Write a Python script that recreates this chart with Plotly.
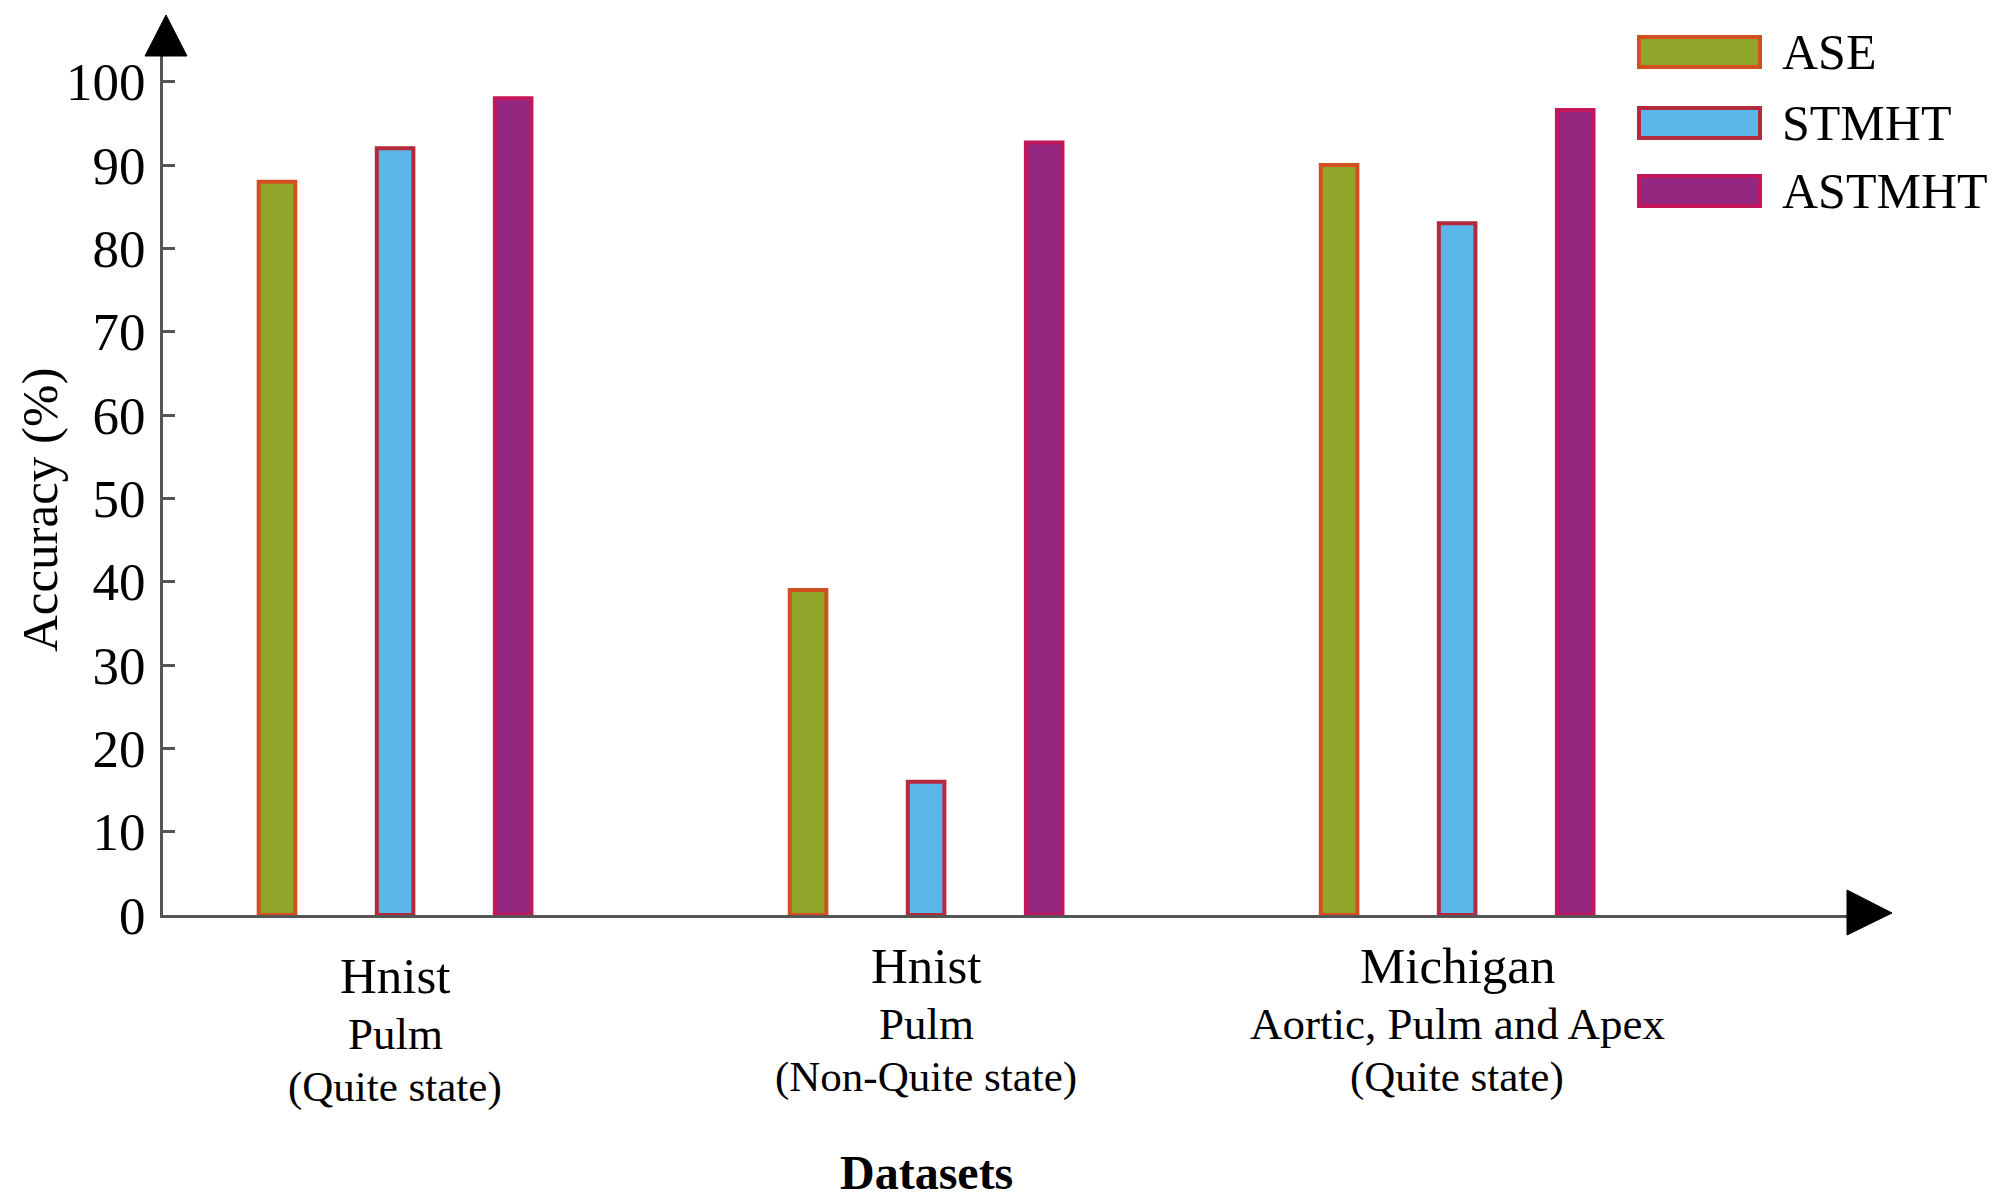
import plotly.graph_objects as go

categories = ["Hnist Pulm (Quite state)", "Hnist Pulm (Non-Quite state)", "Michigan Aortic, Pulm and Apex (Quite state)"]
label_line1 = ["Hnist", "Hnist", "Michigan"]
label_line2 = ["Pulm", "Pulm", "Aortic, Pulm and Apex"]
label_line3 = ["(Quite state)", "(Non-Quite state)", "(Quite state)"]
series_names = ["ASE", "STMHT", "ASTMHT"]
ase = [88, 39, 90]
stmht = [92, 16, 83]
astmht = [98, 92.7, 96.6]
y_ticks = [0, 10, 20, 30, 40, 50, 60, 70, 80, 90, 100]

fills = ["#8fa62a", "#5bb6ea", "#93277f"]
borders = ["#d2501f", "#b22a3c", "#c4165a"]

OFF = 8  # default page body margin
W, H = 2000 - OFF, 1204 - OFF
L, R = 163, 1848
T, B = 55, 915
FONT = "Liberation Serif, Times New Roman, serif"

def px(x):
    return (x - L) / (R - L)

def py(y):
    return (B - y) / (B - T)

fig = go.Figure()
for name, vals, fc, bc in zip(series_names, [ase, stmht, astmht], fills, borders):
    fig.add_trace(go.Bar(
        x=categories, y=vals, name=name,
        marker=dict(color=fc, line=dict(color=bc, width=4)),
        showlegend=False,
    ))

annotations = []
offsets = [10, 0, 0]
for i, cat in enumerate(categories):
    o = offsets[i]
    annotations.append(dict(x=cat, xref="x", y=py(966 + o), yref="paper", text=label_line1[i],
                            showarrow=False, font=dict(family=FONT, size=51, color="black"),
                            xanchor="center", yanchor="middle"))
    annotations.append(dict(x=cat, xref="x", y=py(1024 + o), yref="paper", text=label_line2[i],
                            showarrow=False, font=dict(family=FONT, size=45, color="black"),
                            xanchor="center", yanchor="middle"))
    annotations.append(dict(x=cat, xref="x", y=py(1077 + o), yref="paper", text=label_line3[i],
                            showarrow=False, font=dict(family=FONT, size=43, color="black"),
                            xanchor="center", yanchor="middle"))

annotations.append(dict(x=categories[1], xref="x", y=py(1172), yref="paper", text="<b>Datasets</b>",
                        showarrow=False, font=dict(family=FONT, size=48, color="black"),
                        xanchor="center", yanchor="middle"))
annotations.append(dict(x=px(40), xref="paper", y=py(509), yref="paper", text="Accuracy (%)",
                        textangle=-90, showarrow=False, font=dict(family=FONT, size=51, color="black"),
                        xanchor="center", yanchor="middle"))

shapes = []
legend_rows = [52, 123, 191]
for name, fc, bc, yc in zip(series_names, fills, borders, legend_rows):
    shapes.append(dict(type="rect", xref="paper", yref="paper",
                       x0=px(1639), x1=px(1760), y0=py(yc + 15), y1=py(yc - 15),
                       fillcolor=fc, line=dict(color=bc, width=4)))
    annotations.append(dict(x=px(1780), xref="paper", y=py(yc), yref="paper", text=name,
                            showarrow=False, font=dict(family=FONT, size=50, color="black"),
                            xanchor="left", yanchor="middle"))

shapes.append(dict(type="path", xref="paper", yref="paper",
                   path=f"M {px(145)} {py(56)} L {px(187)} {py(56)} L {px(166)} {py(15)} Z",
                   fillcolor="black", line=dict(color="black", width=1)))
shapes.append(dict(type="path", xref="paper", yref="paper",
                   path=f"M {px(1847)} {py(890)} L {px(1847)} {py(935)} L {px(1892)} {py(913)} Z",
                   fillcolor="black", line=dict(color="black", width=1)))

fig.update_layout(
    width=W, height=H,
    margin=dict(l=L - OFF, r=2000 - R, t=T - OFF, b=1204 - B, pad=0),
    paper_bgcolor="white", plot_bgcolor="white",
    barmode="group", bargap=0.333, bargroupgap=0.69,
    annotations=annotations, shapes=shapes,
    xaxis=dict(range=[-0.437, 2.736], showticklabels=False, ticks="",
               showline=True, linecolor="#555555", linewidth=3, showgrid=False, zeroline=False),
    yaxis=dict(range=[0, 103.2], tickvals=y_ticks, ticks="inside", ticklen=12, tickwidth=3,
               tickcolor="#555555", showline=True, linecolor="#555555", linewidth=3,
               showgrid=False, zeroline=False, ticklabelstandoff=4,
               tickfont=dict(family=FONT, size=53, color="black")),
)

fig.write_html("out.html")
